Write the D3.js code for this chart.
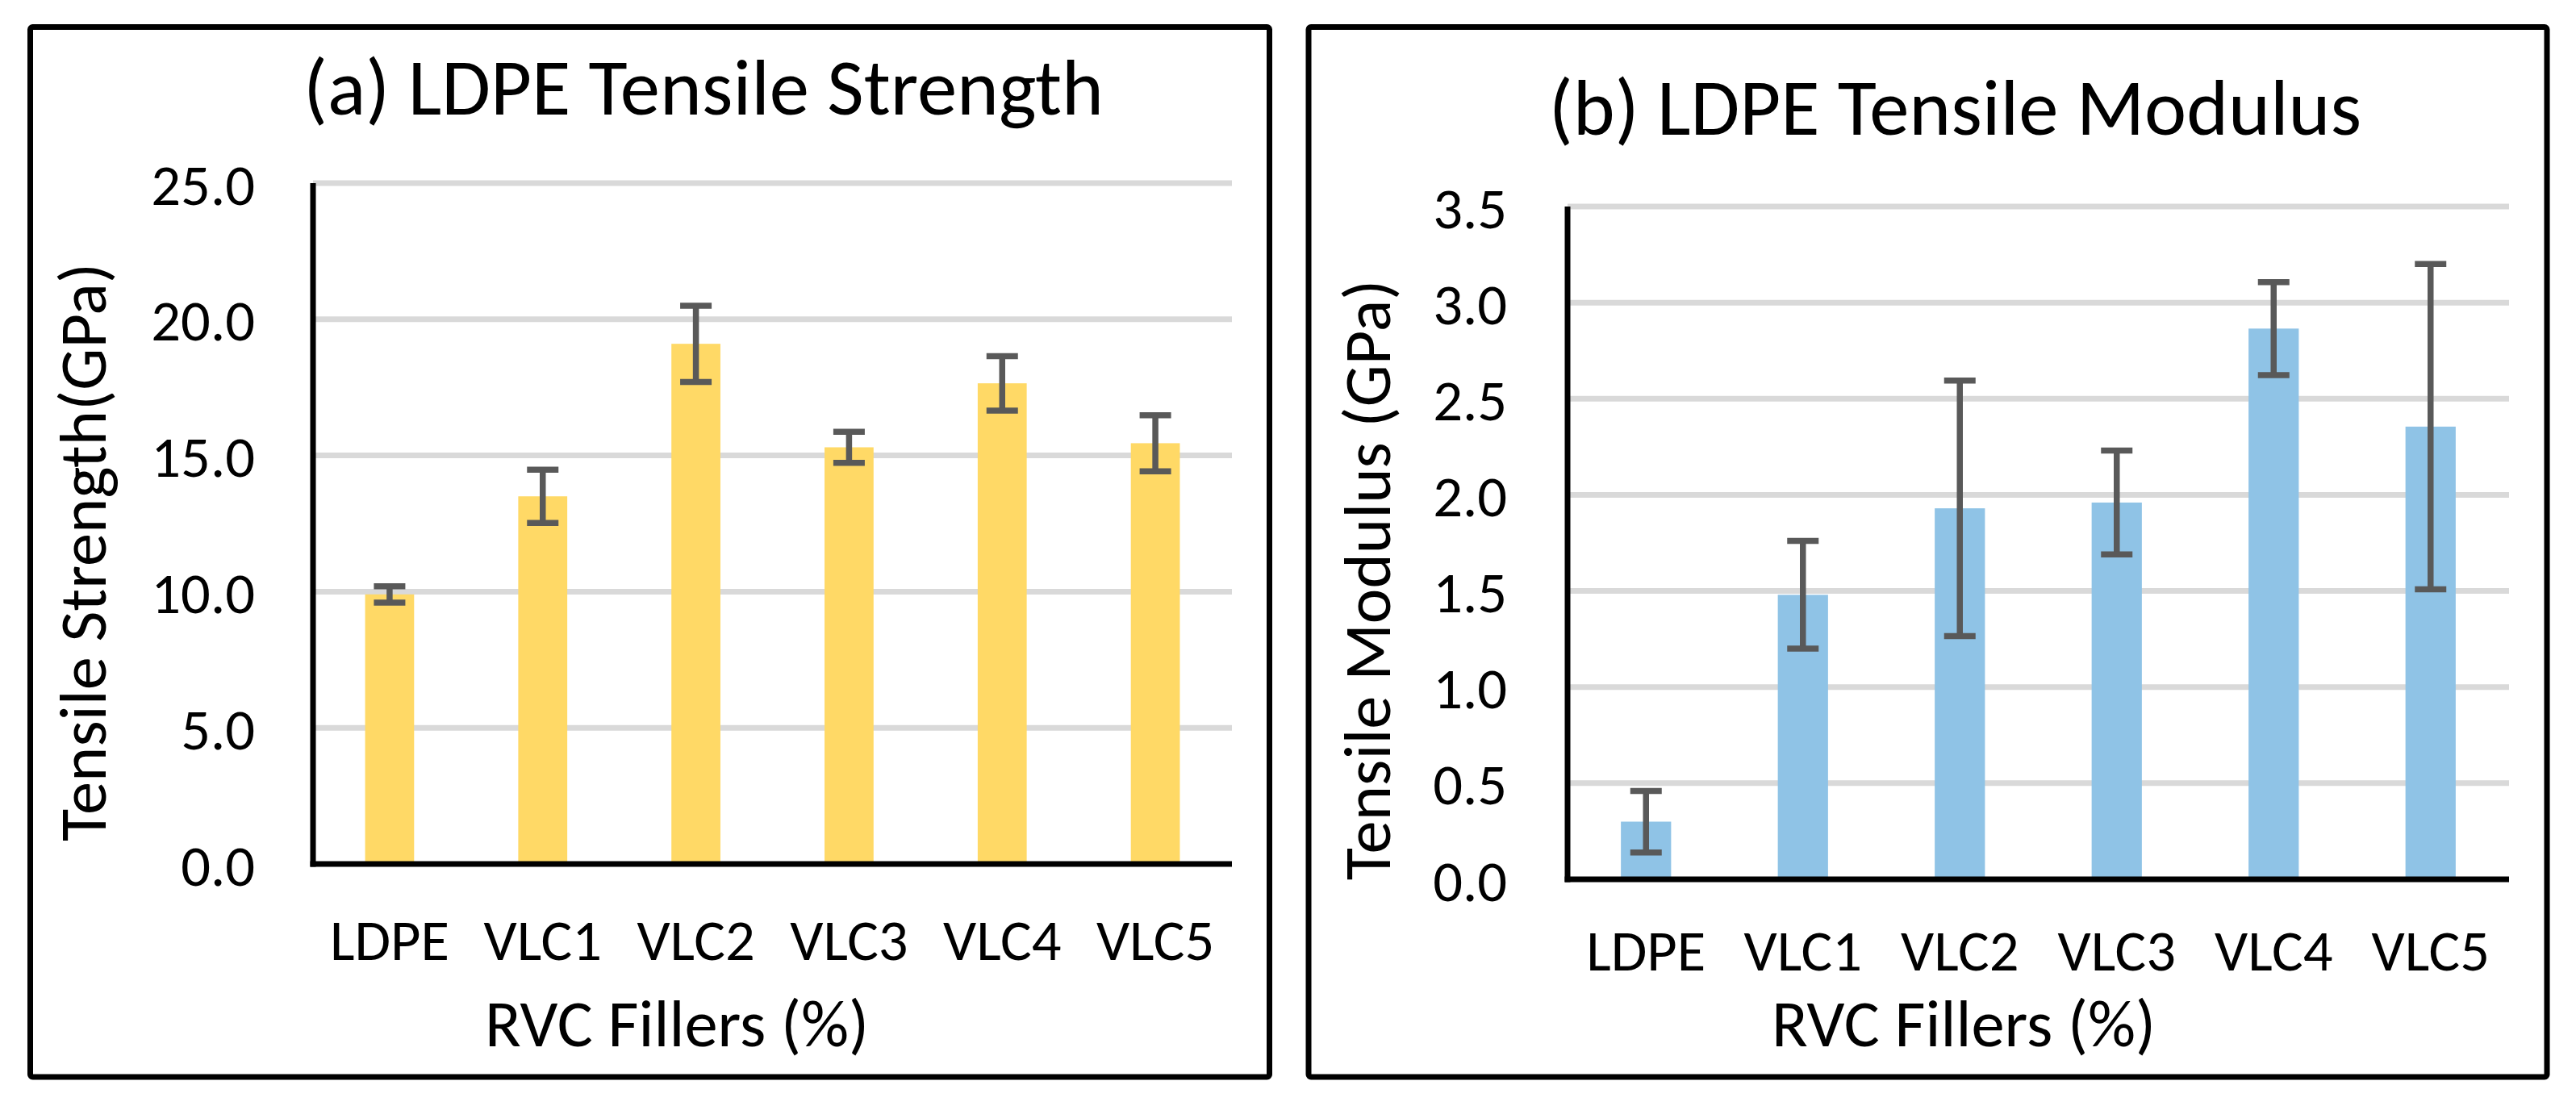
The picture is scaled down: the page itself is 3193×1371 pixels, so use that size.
<!DOCTYPE html>
<html>
<head>
<meta charset="utf-8">
<script src="https://cdn.jsdelivr.net/npm/d3@7"></script>
<style>
  html, body { margin: 0; padding: 0; background: #ffffff; }
  svg { display: block; }
  text { font-family: Carlito, Calibri, Lato, "Open Sans", sans-serif; fill: #000; }
</style>
</head>
<body>
<svg id="chart" width="3193" height="1371"></svg>
<script>
// ---------------- data ----------------
const categories = ["LDPE", "VLC1", "VLC2", "VLC3", "VLC4", "VLC5"];

const strengthValues = [9.9, 13.5, 19.1, 15.3, 17.65, 15.45];
const strengthErrors = [0.3, 0.98, 1.4, 0.57, 1.0, 1.03];
const strengthTicks = [0, 5, 10, 15, 20, 25];

const modulusValues = [0.30, 1.48, 1.93, 1.96, 2.865, 2.355];
const modulusErrors = [0.16, 0.28, 0.665, 0.27, 0.242, 0.846];
const modulusTicks = [0, 0.5, 1.0, 1.5, 2.0, 2.5, 3.0, 3.5];

const titleA = "(a) LDPE Tensile Strength";
const titleB = "(b) LDPE Tensile Modulus";
const yTitleA = "Tensile Strength(GPa)";
const yTitleB = "Tensile Modulus (GPa)";
const xTitle = "RVC Fillers (%)";

// ---------------- layout ----------------
const svg = d3.select("#chart");
svg.append("rect").attr("width", 3193).attr("height", 1371).attr("fill", "#fff");

// font scale: fit the fallback font to the original Calibri widths
const probe = svg.append("text").attr("font-size", 98).text(titleA);
const kFont = 992 / probe.node().getComputedTextLength();
probe.remove();

const panels = [
  {
    values: strengthValues, errors: strengthErrors, ticks: strengthTicks, domain: [0, 25],
    color: "#FFD966", title: titleA, yTitle: yTitleA,
    frame: { x1: 37.5, y1: 33.5, x2: 1573.5, y2: 1335 },
    plot: { left: 388, right: 1527, top: 227, bottom: 1071 },
    titlePos: [872, 142], yTitlePos: [131, 684.5], xTitlePos: [839, 1297],
    xTickBaseline: 1190, yTickRight: 316
  },
  {
    values: modulusValues, errors: modulusErrors, ticks: modulusTicks, domain: [0, 3.5],
    color: "#8FC3E6", title: titleB, yTitle: yTitleB,
    frame: { x1: 1622, y1: 33.5, x2: 3157, y2: 1335 },
    plot: { left: 1943, right: 3110, top: 256, bottom: 1090 },
    titlePos: [2423.5, 166.5], yTitlePos: [1722.5, 719], xTitlePos: [2434, 1297],
    xTickBaseline: 1203, yTickRight: 1868
  }
];

panels.forEach(p => {
  const g = svg.append("g");

  // frame
  g.append("rect")
    .attr("x", p.frame.x1).attr("y", p.frame.y1)
    .attr("width", p.frame.x2 - p.frame.x1).attr("height", p.frame.y2 - p.frame.y1)
    .attr("rx", 3).attr("fill", "none").attr("stroke", "#000").attr("stroke-width", 7);

  const x = d3.scaleBand().domain(categories)
    .range([p.plot.left, p.plot.right]).paddingInner(0.68).paddingOuter(0.34);
  const y = d3.scaleLinear().domain(p.domain).range([p.plot.bottom, p.plot.top]);

  // gridlines
  g.append("g").selectAll("line").data(p.ticks.filter(t => t > 0)).join("line")
    .attr("x1", p.plot.left).attr("x2", p.plot.right)
    .attr("y1", d => y(d)).attr("y2", d => y(d))
    .attr("stroke", "#D9D9D9").attr("stroke-width", 7);

  // bars
  g.append("g").selectAll("rect").data(categories).join("rect")
    .attr("x", d => x(d)).attr("width", x.bandwidth())
    .attr("y", (d, i) => y(p.values[i]))
    .attr("height", (d, i) => y(0) - y(p.values[i]))
    .attr("fill", p.color);

  // error bars
  const capW = 39;
  const eg = g.append("g").attr("stroke", "#595959").attr("stroke-width", 7.5).attr("fill", "none");
  categories.forEach((c, i) => {
    const cx = x(c) + x.bandwidth() / 2;
    const hi = y(p.values[i] + p.errors[i]);
    const lo = y(p.values[i] - p.errors[i]);
    eg.append("line").attr("x1", cx).attr("x2", cx).attr("y1", hi).attr("y2", lo);
    eg.append("line").attr("x1", cx - capW / 2).attr("x2", cx + capW / 2).attr("y1", hi).attr("y2", hi);
    eg.append("line").attr("x1", cx - capW / 2).attr("x2", cx + capW / 2).attr("y1", lo).attr("y2", lo);
  });

  // axis lines
  g.append("line")
    .attr("x1", p.plot.left).attr("x2", p.plot.left)
    .attr("y1", p.plot.top).attr("y2", p.plot.bottom + 3.5)
    .attr("stroke", "#000").attr("stroke-width", 7);
  g.append("line")
    .attr("x1", p.plot.left - 3.5).attr("x2", p.plot.right)
    .attr("y1", p.plot.bottom).attr("y2", p.plot.bottom)
    .attr("stroke", "#000").attr("stroke-width", 7);

  // y tick labels
  const yAxis = d3.axisLeft(y).tickValues(p.ticks).tickFormat(d3.format(".1f"))
    .tickSize(0).tickPadding(p.plot.left - p.yTickRight);
  const ya = g.append("g").attr("transform", `translate(${p.plot.left},0)`).call(yAxis);
  ya.select(".domain").remove();
  ya.selectAll("text").attr("font-size", 72 * kFont).attr("font-family", null)
    .attr("dy", "0.36em").attr("fill", "#000");

  // x tick labels
  const xAxis = d3.axisBottom(x).tickSize(0);
  const xa = g.append("g").attr("transform", `translate(0,${p.plot.bottom})`).call(xAxis);
  xa.select(".domain").remove();
  xa.selectAll("text").attr("font-size", 72 * kFont).attr("font-family", null)
    .attr("y", p.xTickBaseline - p.plot.bottom).attr("dy", 0).attr("fill", "#000");

  // titles
  g.append("text").attr("x", p.titlePos[0]).attr("y", p.titlePos[1])
    .attr("text-anchor", "middle").attr("font-size", 98 * kFont).text(p.title);
  g.append("text")
    .attr("transform", `translate(${p.yTitlePos[0]},${p.yTitlePos[1]}) rotate(-90)`)
    .attr("text-anchor", "middle").attr("font-size", 82 * kFont).text(p.yTitle);
  g.append("text").attr("x", p.xTitlePos[0]).attr("y", p.xTitlePos[1])
    .attr("text-anchor", "middle").attr("font-size", 82 * kFont).text(xTitle);
});
</script>
</body>
</html>
